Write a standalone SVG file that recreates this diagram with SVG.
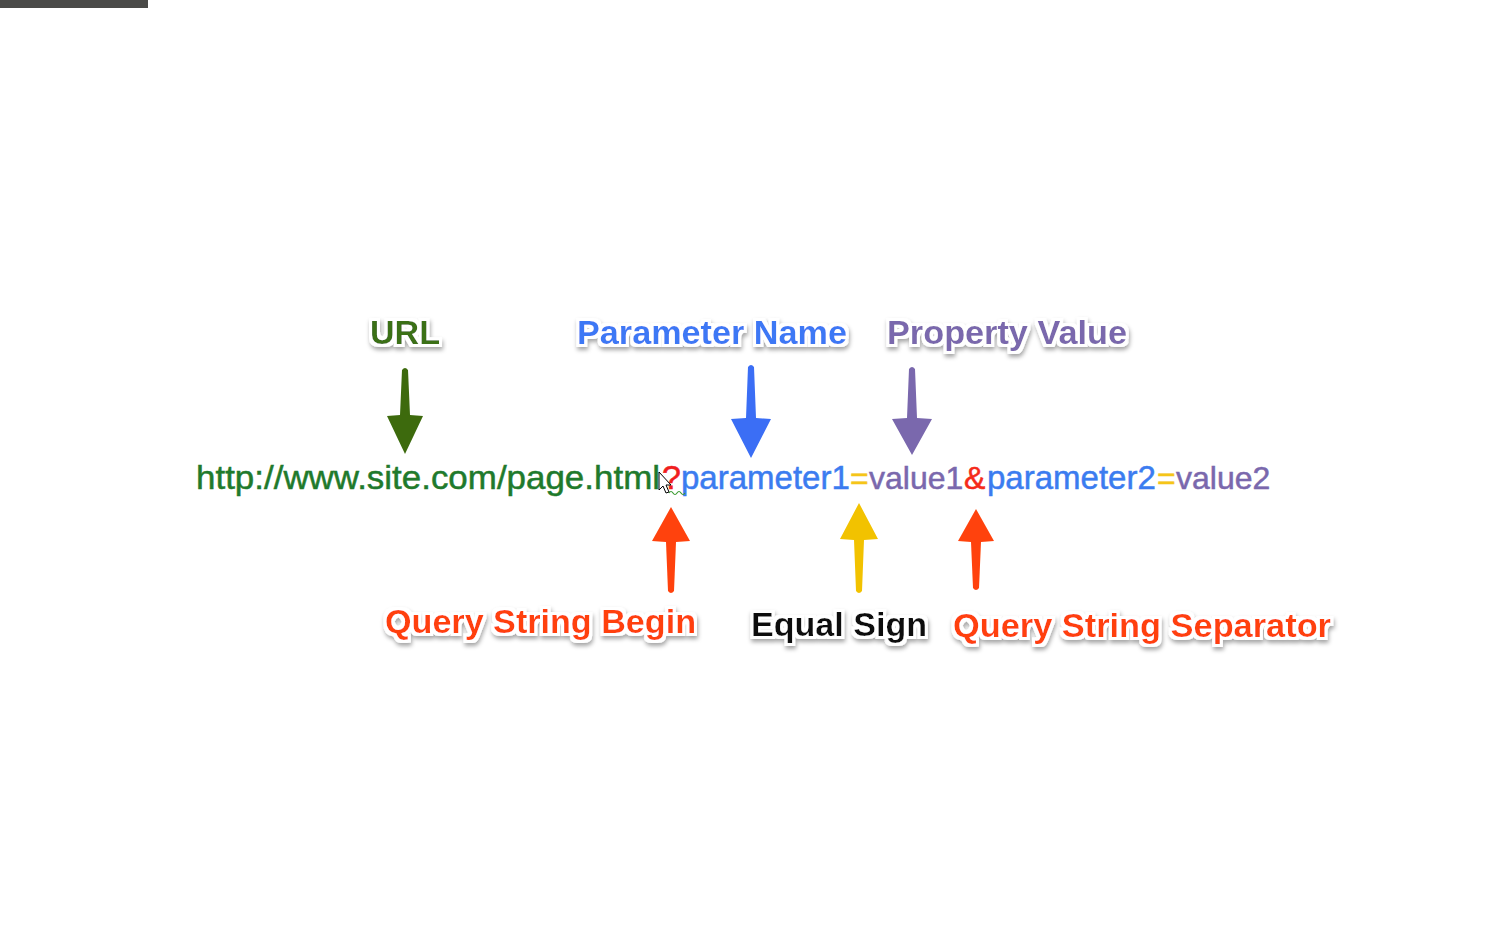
<svg xmlns="http://www.w3.org/2000/svg" width="1497" height="931" viewBox="0 0 1497 931">
<defs>
<style>
.lbl{font-family:"Liberation Sans",Arial,sans-serif;font-weight:bold;font-size:34px;filter:url(#lblfx)}
.url{font-family:"Liberation Sans",Arial,sans-serif;font-size:34px;stroke-width:0.5px}
.s33{font-size:33px}
.s32{font-size:32px}
</style>
<filter id="lblfx" x="-10%" y="-40%" width="120%" height="190%">
<feMorphology in="SourceAlpha" operator="dilate" radius="2.5" result="d"/>
<feFlood flood-color="#ffffff"/>
<feComposite in2="d" operator="in" result="white"/>
<feGaussianBlur in="d" stdDeviation="2" result="b"/>
<feOffset in="b" dx="1" dy="3" result="ob"/>
<feFlood flood-color="#000000" flood-opacity="0.35"/>
<feComposite in2="ob" operator="in" result="sh"/>
<feMerge><feMergeNode in="sh"/><feMergeNode in="white"/><feMergeNode in="SourceGraphic"/></feMerge>
</filter>
<filter id="arfx" x="-50%" y="-10%" width="200%" height="120%">
<feGaussianBlur in="SourceGraphic" stdDeviation="0.6"/>
</filter>
</defs>
<rect x="0" y="0" width="1497" height="931" fill="#ffffff"/>
<rect x="0" y="0" width="148" height="8" fill="#4a4a48"/>

<g id="connectors" filter="url(#arfx)">
<path id="arrow-url" fill="#3d6b10" d="M402,370 Q405,366 408,370 L410,415 L423,416 L405,454 L387,416 L400,415 Z"/>
<path id="arrow-param" fill="#3a6ef5" d="M748,367 Q751,363 754,367 L756,418 L771,419 L751,458 L731,419 L746,418 Z"/>
<path id="arrow-prop" fill="#7a68ad" d="M909,369 Q912,365 915,369 L917,418 L932,419 L912,455 L892,419 L907,418 Z"/>
<path id="arrow-qbegin" fill="#ff420a" d="M668,591 Q671,595 674,591 L676,542 L690,541 L671,507 L652,541 L666,542 Z"/>
<path id="arrow-equal" fill="#f2c200" d="M856,591 Q859,595 862,591 L864,540 L878,539 L859,503 L840,539 L854,540 Z"/>
<path id="arrow-sep" fill="#ff420a" d="M973,588 Q976,592 979,588 L981,542 L994,541 L976,509 L958,541 L971,542 Z"/>
</g>

<g id="node-url-label"><text class="lbl" x="370" y="344" fill="#3b6f12" textLength="70" lengthAdjust="spacingAndGlyphs">URL</text></g>
<g id="node-param-label"><text class="lbl" x="577" y="344" fill="#3c78f5" textLength="270" lengthAdjust="spacingAndGlyphs">Parameter Name</text></g>
<g id="node-prop-label"><text class="lbl" x="887" y="344" fill="#7a68ad" textLength="240" lengthAdjust="spacingAndGlyphs">Property Value</text></g>
<g id="node-qbegin-label"><text class="lbl" x="385" y="633" fill="#ff400f" textLength="311" lengthAdjust="spacingAndGlyphs">Query String Begin</text></g>
<g id="node-equal-label"><text class="lbl" x="751" y="636" fill="#111111" textLength="176" lengthAdjust="spacingAndGlyphs">Equal Sign</text></g>
<g id="node-sep-label"><text class="lbl" x="953" y="637" fill="#ff400f" textLength="378" lengthAdjust="spacingAndGlyphs">Query String Separator</text></g>

<g id="node-url-string">
<text class="url" y="489"><tspan x="196" fill="#1f7a2c" stroke="#1f7a2c" textLength="464" lengthAdjust="spacingAndGlyphs">http://www.site.com/page.html</tspan><tspan x="662" fill="#f01e1e" stroke="#f01e1e">?</tspan><tspan class="s33" x="681" fill="#3b7cf0" stroke="#3b7cf0">parameter1</tspan><tspan class="s32" x="850" fill="#f5c518" stroke="#f5c518">=</tspan><tspan class="s32" x="869" fill="#7a68ad" stroke="#7a68ad">value1</tspan><tspan class="s32" x="964" fill="#f52a1a" stroke="#f52a1a">&amp;</tspan><tspan class="s33" x="987" fill="#3b7cf0" stroke="#3b7cf0">parameter2</tspan><tspan class="s32" x="1157" fill="#f5c518" stroke="#f5c518">=</tspan><tspan class="s32" x="1176" fill="#7a68ad" stroke="#7a68ad">value2</tspan></text>
</g>

<g id="cursor">
<path d="M669,493 q2,-3 4,0 t4,0 t4,0 t4,0" fill="none" stroke="#3a9a30" stroke-width="1.2"/>
<path d="M659,472 L659,490 L663,486 L666,493 L669,492 L666,485 L671,485 Z" fill="#ffffff" stroke="#000000" stroke-width="1"/>
</g>
</svg>
